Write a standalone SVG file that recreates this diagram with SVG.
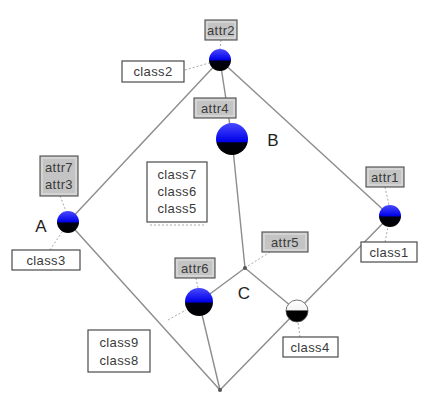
<svg xmlns="http://www.w3.org/2000/svg" width="442" height="402" viewBox="0 0 442 402">
<style>
.edge{stroke:#8c8c8c;stroke-width:1.4;fill:none}
.tick{stroke:#a8a8a8;stroke-width:1;stroke-dasharray:2 2;fill:none}
.attr{fill:#c4c4c4;stroke:#5a5a5a;stroke-width:1.2}
.attrin{fill:none;stroke:#e4e4e4;stroke-width:1}
.cls{fill:#ffffff;stroke:#4a4a4a;stroke-width:1.2}
.t{font-family:"Liberation Sans",Arial,sans-serif;font-size:13px;letter-spacing:0.4px;fill:#3a3a3a;text-anchor:middle}
.big{font-family:"Liberation Sans",Arial,sans-serif;font-size:17px;fill:#222;text-anchor:middle}
.dot{fill:#555}
</style>
<defs>
<linearGradient id="bb" x1="0" y1="0" x2="0" y2="1">
<stop offset="0" stop-color="#4a4aff"/>
<stop offset="0.5" stop-color="#0000e8"/>
<stop offset="0.54" stop-color="#000010"/>
<stop offset="1" stop-color="#000"/>
</linearGradient>
<linearGradient id="bb2" x1="0" y1="0" x2="0" y2="1">
<stop offset="0" stop-color="#4a4aff"/>
<stop offset="0.58" stop-color="#0000e8"/>
<stop offset="0.62" stop-color="#000010"/>
<stop offset="1" stop-color="#000"/>
</linearGradient>
<linearGradient id="wb" x1="0" y1="0" x2="0" y2="1">
<stop offset="0" stop-color="#fff"/>
<stop offset="0.45" stop-color="#f4f4f4"/>
<stop offset="0.5" stop-color="#000"/>
<stop offset="1" stop-color="#000"/>
</linearGradient>
</defs>
<rect width="442" height="402" fill="#ffffff"/>
<g id="connectors">
<line class="edge" x1="220" y1="60" x2="68" y2="222"/>
<line class="edge" x1="220" y1="60" x2="232" y2="139"/>
<line class="edge" x1="220" y1="60" x2="390" y2="216"/>
<line class="edge" x1="68" y1="222" x2="220" y2="390"/>
<line class="edge" x1="232" y1="139" x2="245" y2="268"/>
<line class="edge" x1="390" y1="216" x2="297" y2="311"/>
<line class="edge" x1="245" y1="268" x2="199" y2="302"/>
<line class="edge" x1="245" y1="268" x2="297" y2="311"/>
<line class="edge" x1="199" y1="302" x2="220" y2="390"/>
<line class="edge" x1="297" y1="311" x2="220" y2="390"/>
<line class="tick" x1="185" y1="70" x2="209" y2="63"/>
<line class="tick" x1="221" y1="40" x2="220" y2="49"/>
<line class="tick" x1="60" y1="196" x2="66" y2="211"/>
<line class="tick" x1="50" y1="250" x2="62" y2="232"/>
<line class="tick" x1="385" y1="187" x2="389" y2="205"/>
<line class="tick" x1="385" y1="242" x2="388" y2="227"/>
<line class="tick" x1="270" y1="252" x2="248" y2="266"/>
<line class="tick" x1="196" y1="278" x2="198" y2="288"/>
<line class="tick" x1="300" y1="337" x2="298" y2="322"/>
<line class="tick" x1="150" y1="225" x2="205" y2="225"/>
<line class="tick" x1="168" y1="320" x2="186" y2="310"/>
</g>
<g id="n-top">
<rect class="attr" x="205" y="20" width="32" height="20"/>
<rect class="attrin" x="207" y="22" width="28" height="16"/>
<text class="t" x="221" y="35">attr2</text>
<circle cx="220" cy="60" r="11" fill="url(#bb)"/>
<rect class="cls" x="122" y="61" width="62" height="21"/>
<text class="t" x="153" y="76">class2</text>
</g>
<g id="n-B">
<rect class="attr" x="194" y="98" width="42" height="20"/>
<rect class="attrin" x="196" y="100" width="38" height="16"/>
<text class="t" x="215" y="113">attr4</text>
<circle cx="232" cy="139" r="16" fill="url(#bb2)"/>
<text class="big" x="273" y="146">B</text>
<rect class="cls" x="147" y="162" width="60" height="60"/>
<text class="t" x="177" y="179">class7</text>
<text class="t" x="177" y="196">class6</text>
<text class="t" x="177" y="213">class5</text>
</g>
<g id="n-A">
<rect class="attr" x="40" y="156" width="38" height="40"/>
<rect class="attrin" x="42" y="158" width="34" height="36"/>
<text class="t" x="59" y="172">attr7</text>
<text class="t" x="59" y="189">attr3</text>
<circle cx="68" cy="222" r="11" fill="url(#bb)"/>
<text class="big" x="41" y="232">A</text>
<rect class="cls" x="12" y="250" width="68" height="20"/>
<text class="t" x="46" y="265">class3</text>
</g>
<g id="n-attr1">
<rect class="attr" x="366" y="167" width="38" height="20"/>
<rect class="attrin" x="368" y="169" width="34" height="16"/>
<text class="t" x="385" y="182">attr1</text>
<circle cx="390" cy="216" r="11" fill="url(#bb)"/>
<rect class="cls" x="361" y="242" width="56" height="20"/>
<text class="t" x="389" y="257">class1</text>
</g>
<g id="n-C">
<rect class="attr" x="262" y="232" width="46" height="20"/>
<rect class="attrin" x="264" y="234" width="42" height="16"/>
<text class="t" x="285" y="247">attr5</text>
<circle class="dot" cx="245" cy="268" r="2"/>
<text class="big" x="244" y="299">C</text>
</g>
<g id="n-attr6">
<rect class="attr" x="175" y="258" width="40" height="20"/>
<rect class="attrin" x="177" y="260" width="36" height="16"/>
<text class="t" x="195" y="273">attr6</text>
<circle cx="199" cy="302" r="14" fill="url(#bb)"/>
<rect class="cls" x="88" y="330" width="62" height="42"/>
<text class="t" x="119" y="347">class9</text>
<text class="t" x="119" y="365">class8</text>
</g>
<g id="n-class4">
<circle cx="297" cy="311" r="11" fill="url(#wb)" stroke="#555" stroke-width="0.8"/>
<rect class="cls" x="283" y="337" width="55" height="20"/>
<text class="t" x="310" y="352">class4</text>
</g>
<g id="n-bottom">
<circle class="dot" cx="220" cy="390" r="2"/>
</g>
</svg>
